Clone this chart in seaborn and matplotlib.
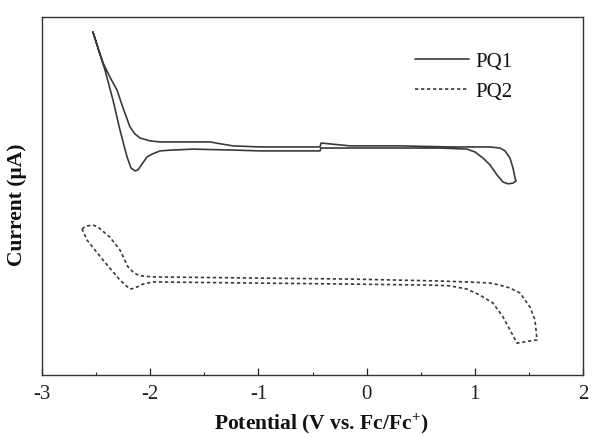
import matplotlib
matplotlib.use("Agg")
import matplotlib.pyplot as plt
from matplotlib.ticker import MultipleLocator
import seaborn as sns
import pandas as pd

# ---- data ----
pq1_x = [-2.529, -2.482, -2.436, -2.372, -2.307, -2.251, -2.187, -2.140, -2.094, -2.002,
         -1.909, -1.632, -1.447, -1.336, -1.235, -0.985, -0.616, -0.431, -0.421, -0.153,
         0.309, 0.771, 1.140, 1.233, 1.279, 1.325, 1.353, 1.372, 1.381, 1.353,
         1.307, 1.261, 1.205, 1.140, 1.076, 1.002, 0.928, 0.678, 0.309, -0.338,
         -0.421, -0.431, -0.616, -0.985, -1.198, -1.604, -1.817, -1.909, -1.983, -2.030,
         -2.076, -2.113, -2.140, -2.177, -2.214, -2.279, -2.344, -2.418, -2.482, -2.529]
pq1_y = [95.8, 91.3, 87.2, 83.2, 79.6, 74.6, 69.3, 67.3, 66.2, 65.4,
         65.1, 65.1, 65.1, 64.5, 64.0, 63.7, 63.7, 63.7, 64.8, 64.0,
         64.0, 63.7, 63.7, 63.4, 62.6, 60.6, 57.8, 55.0, 54.2, 53.6,
         53.4, 53.9, 55.9, 58.7, 60.6, 62.3, 63.1, 63.4, 63.4, 63.4,
         63.4, 62.6, 62.6, 62.6, 62.8, 63.1, 62.8, 62.6, 61.7, 60.9,
         58.9, 57.3, 57.0, 57.8, 60.9, 68.4, 76.8, 85.2, 91.3, 95.8]

pq2_x = [-2.630, -2.593, -2.529, -2.482, -2.372, -2.279, -2.205, -2.150, -2.094, -1.974,
         -1.078, -0.153, 0.614, 0.928, 1.140, 1.233, 1.325, 1.418, 1.510, 1.556,
         1.575, 1.510, 1.390, 1.325, 1.261, 1.168, 1.048, 0.928, 0.771, 0.614,
         -0.153, -1.078, -1.974, -2.067, -2.140, -2.187, -2.279, -2.436, -2.584, -2.630]
pq2_y = [40.8, 41.6, 41.9, 41.3, 38.5, 34.9, 30.2, 28.5, 27.7, 27.4,
         27.1, 26.8, 26.3, 26.0, 25.7, 25.1, 24.3, 22.9, 19.0, 15.4,
         9.8, 9.5, 8.9, 12.6, 16.2, 20.1, 22.3, 24.0, 24.9, 25.1,
         25.4, 25.7, 26.0, 25.4, 24.3, 24.0, 26.5, 32.1, 37.7, 40.8]

series_names = ["PQ1", "PQ2"]
x_ticks = [-3, -2, -1, 0, 1, 2]

# ---- style ----
sns.set_style("ticks")
plt.rcParams["font.family"] = ["Liberation Serif", "DejaVu Serif"]
plt.rcParams["mathtext.fontset"] = "custom"
plt.rcParams["mathtext.rm"] = "Liberation Serif"
plt.rcParams["mathtext.bf"] = "Liberation Serif:bold"

fig = plt.figure(figsize=(5.94, 4.38), dpi=100)
ax = fig.add_axes([42 / 594, 1 - 375 / 438, (583 - 42) / 594, (375 - 17) / 438])

df1 = pd.DataFrame({"x": pq1_x, "y": pq1_y})
df2 = pd.DataFrame({"x": pq2_x, "y": pq2_y})

line_color = "#3a3a3a"
sns.lineplot(data=df1, x="x", y="y", sort=False, estimator=None, ax=ax,
             color=line_color, linewidth=1.2, label=series_names[0])
sns.lineplot(data=df2, x="x", y="y", sort=False, estimator=None, ax=ax,
             color=line_color, linewidth=1.2, linestyle=(0, (2, 1.6)),
             label=series_names[1])

ax.set_xlim(-3, 2)
ax.set_ylim(0, 100)
ax.set_xticks(x_ticks)
ax.set_xticklabels([str(t) for t in x_ticks])
ax.xaxis.set_minor_locator(MultipleLocator(0.5))
ax.set_yticks([])
ax.tick_params(axis="x", which="major", direction="in", length=5, width=0.9,
               labelsize=15, pad=7, colors="#222222")
ax.tick_params(axis="x", which="minor", direction="in", length=2.5, width=0.8)

for s in ax.spines.values():
    s.set_linewidth(1.0)
    s.set_color("#333333")

ax.set_xlabel(r"Potential (V vs. Fc/Fc$^{\mathbf{+}}$)", fontsize=15.5,
              fontweight="bold", color="#111111")
ax.xaxis.set_label_coords(0.516, -0.102)
ax.set_ylabel("Current (μA)", fontsize=15.5, fontweight="bold",
              color="#111111")
ax.yaxis.set_label_coords(-0.028, 0.475)

leg = ax.legend(loc="upper right", bbox_to_anchor=(0.885, 0.925), frameon=False,
                fontsize=15, handlelength=2.6, handletextpad=0.3,
                labelspacing=0.5, borderaxespad=0)
for t in leg.get_texts():
    t.set_color("#111111")

fig.savefig("out.png", dpi=100)
